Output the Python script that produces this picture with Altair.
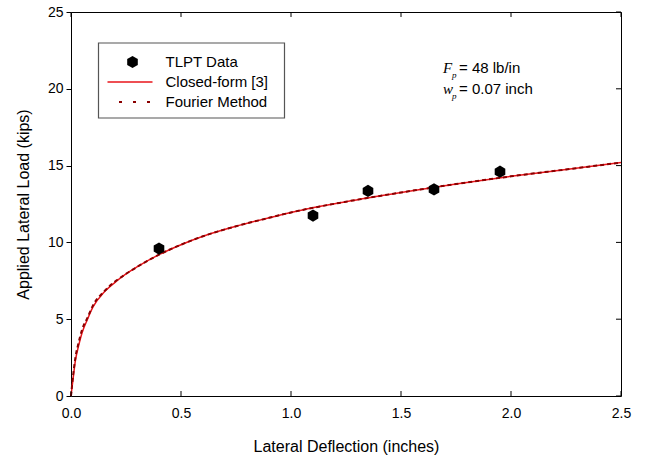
import altair as alt
import pandas as pd

# ---- data ----
tlpt_x = [0.40, 1.10, 1.35, 1.65, 1.95]
tlpt_y = [9.6, 11.75, 13.35, 13.45, 14.6]

curve_x = [0.0, 0.01, 0.02, 0.035, 0.05, 0.075, 0.1, 0.15, 0.2, 0.25, 0.3, 0.4,
           0.5, 0.6, 0.75, 0.9, 1.0, 1.25, 1.5, 1.75, 2.0, 2.25, 2.5]
closed_y = [0.0, 1.2, 2.3, 3.3, 4.1, 5.0, 5.8, 6.75, 7.4, 7.95, 8.4, 9.2,
            9.85, 10.4, 11.05, 11.6, 11.95, 12.65, 13.25, 13.8, 14.3, 14.75, 15.2]
fourier_y = [0.0, 1.4, 2.5, 3.5, 4.3, 5.1, 5.9, 6.8, 7.45, 7.95, 8.4, 9.2,
             9.85, 10.4, 11.05, 11.6, 11.95, 12.65, 13.25, 13.8, 14.3, 14.75, 15.2]

x_ticks = [0.0, 0.5, 1.0, 1.5, 2.0, 2.5]
y_ticks = [0, 5, 10, 15, 20, 25]

legend_labels = ["TLPT Data", "Closed-form [3]", "Fourier Method"]

W, H = 550, 384
FONT = "Liberation Sans"
HEX = "M0,-1L0.866,-0.5L0.866,0.5L0,1L-0.866,0.5L-0.866,-0.5Z"

curve_df = pd.DataFrame({"x": curve_x, "closed": closed_y, "fourier": fourier_y})
pts_df = pd.DataFrame({"x": tlpt_x, "y": tlpt_y})
xt_df = pd.DataFrame({"x": x_ticks})
yt_df = pd.DataFrame({"y": y_ticks})

xscale = alt.Scale(domain=[0, 2.5], nice=False, zero=False)
yscale = alt.Scale(domain=[0, 25], nice=False, zero=False)

xaxis = alt.Axis(values=x_ticks, format=".1f", tickSize=0, labelPadding=10,
                 labelFlush=False,
                 title="Lateral Deflection (inches)", titlePadding=18,
                 domain=False, grid=False)
yaxis = alt.Axis(values=y_ticks, tickSize=5, labelPadding=3, tickColor="black",
                 labelFlush=False,
                 title="Applied Lateral Load (kips)", titlePadding=16,
                 domain=False, grid=False)


def X(field):
    return alt.X(field, type="quantitative", scale=xscale, axis=xaxis,
                 title="Lateral Deflection (inches)")


def Y(field):
    return alt.Y(field, type="quantitative", scale=yscale, axis=yaxis,
                 title="Applied Lateral Load (kips)")


closed = alt.Chart(curve_df).mark_line(color="#e8141a", strokeWidth=1.5,
                                        interpolate="monotone").encode(
    x=X("x"), y=Y("closed"))
fourier = alt.Chart(curve_df).mark_line(color="#8b0000", strokeWidth=2,
                                         strokeDash=[4, 3],
                                         interpolate="monotone").encode(
    x=X("x"), y=Y("fourier"))
points = alt.Chart(pts_df).mark_point(shape=HEX, filled=True, color="black",
                                      opacity=1, size=150).encode(
    x=X("x"), y=Y("y"))

# inward ticks
bt = alt.Chart(xt_df).mark_rule(color="black").encode(
    x=X("x"), y=alt.value(H), y2=alt.value(H - 5))
tt = alt.Chart(xt_df).mark_rule(color="black").encode(
    x=X("x"), y=alt.value(0), y2=alt.value(5))
rt = alt.Chart(yt_df).mark_rule(color="black").encode(
    y=Y("y"), x=alt.value(W), x2=alt.value(W - 5))

# legend
one = pd.DataFrame({"a": [0]})
leg_df = pd.DataFrame({"label": legend_labels, "yy": [50, 70, 90]})
box = alt.Chart(one).mark_rect(
    fill="white", stroke="#555555", strokeWidth=1.2).encode(
    x=alt.value(27.5), x2=alt.value(213.5), y=alt.value(31), y2=alt.value(106))
leg_pt = alt.Chart(one).mark_point(
    shape=HEX, filled=True, color="black", opacity=1, size=150).encode(
    x=alt.value(61.5), y=alt.value(50))
leg_l1 = alt.Chart(one).mark_rule(color="#e8141a", strokeWidth=1.5).encode(
    x=alt.value(36.5), x2=alt.value(81.5), y=alt.value(70))
leg_l2 = alt.Chart(one).mark_rule(
    color="#8b0000", strokeWidth=2.2, strokeDash=[3, 11]).encode(
    x=alt.value(48), x2=alt.value(81.5), y=alt.value(90))
leg_txt = alt.Chart(leg_df).mark_text(
    align="left", baseline="middle", font=FONT, fontSize=15, color="black").encode(
    x=alt.value(94.5), y=alt.Y("yy:Q", scale=None), text="label:N")

# annotation
ann_sym = pd.DataFrame({"s": ["F", "w"], "yy": [56, 77]})
ann_sub = pd.DataFrame({"s": ["p", "p"], "yy": [63, 84]})
ann_txt = pd.DataFrame({"s": ["= 48 lb/in", "= 0.07 inch"], "yy": [56, 77]})
a1 = alt.Chart(ann_sym).mark_text(
    align="left", baseline="middle", font="Liberation Serif", fontStyle="italic",
    fontSize=15, color="black").encode(
    x=alt.value(372), y=alt.Y("yy:Q", scale=None), text="s:N")
a2 = alt.Chart(ann_sub).mark_text(
    align="left", baseline="middle", font="Liberation Serif", fontStyle="italic",
    fontSize=9, color="black").encode(
    x=alt.value(381), y=alt.Y("yy:Q", scale=None), text="s:N")
a3 = alt.Chart(ann_txt).mark_text(
    align="left", baseline="middle", font=FONT, fontSize=15, color="black").encode(
    x=alt.value(388), y=alt.Y("yy:Q", scale=None), text="s:N")

chart = alt.layer(
    closed, fourier, points, bt, tt, rt,
    box, leg_pt, leg_l1, leg_l2, leg_txt, a1, a2, a3
).properties(
    width=W, height=H,
    autosize=alt.AutoSizeParams(type="none"),
    padding={"left": 71, "top": 12, "right": 25, "bottom": 61},
    background="white",
).configure_view(
    stroke="black", strokeWidth=1
).configure_axis(
    labelFont=FONT, titleFont=FONT, labelFontSize=14, titleFontSize=16,
    titleFontWeight="normal", labelColor="black", titleColor="black",
)

chart.save("out.html", embed_options={"renderer": "svg", "actions": False})
